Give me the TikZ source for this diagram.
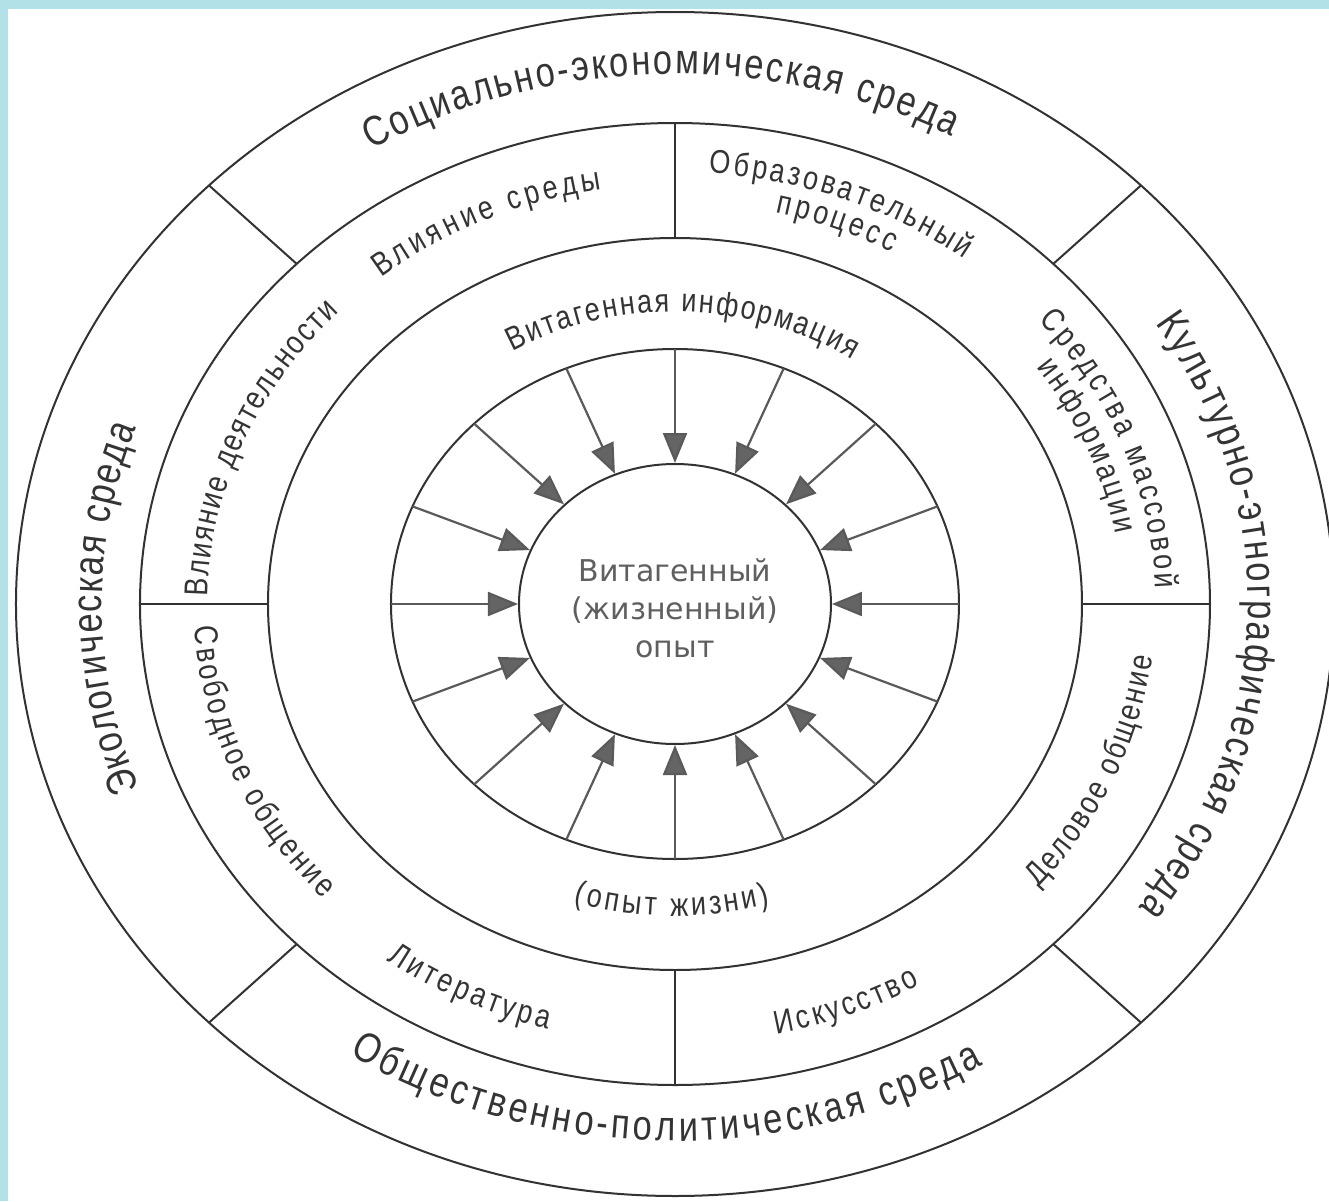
\documentclass[tikz,border=0pt]{standalone}
\usepackage{fontspec}
\setmainfont{Liberation Sans}
\newfontfamily\ringfont[FakeStretch=0.82]{Liberation Sans}
\newfontfamily\corefont{DejaVu Sans}
\usetikzlibrary{arrows.meta,decorations.text,shapes.geometric}

\definecolor{ink}{RGB}{50,50,50}
\definecolor{txt}{RGB}{52,52,52}
\definecolor{arrowgray}{RGB}{90,90,90}
\definecolor{headgray}{RGB}{100,100,100}
\definecolor{coretxt}{RGB}{95,95,95}
\definecolor{bgblue}{RGB}{178,226,232}

\tikzset{
  ring/.style={draw=ink, line width=1pt},
  spoke/.style={draw=arrowgray, line width=1.1pt, -{Triangle[length=15pt,width=12pt,fill=headgray]}},
  bigtext/.style={decorate, decoration={text along path, text align=fit to path, text color=txt,
      text={|\ringfont\fontsize{21pt}{24pt}\selectfont|#1}}},
  smalltext/.style={decorate, decoration={text along path, text align=fit to path, text color=txt,
      text={|\ringfont\fontsize{16.5pt}{19pt}\selectfont|#1}}},
}

\begin{document}
\begin{tikzpicture}[x=0.5pt, y=0.5pt]
\useasboundingbox (-675,-597) rectangle (654,604);
\fill[bgblue] (-675,-597) rectangle (654,604);
\fill[white] (-667,-597) rectangle (654,595);

% rings
\draw[ring] (0,0) ellipse [x radius=659, y radius=592];
\draw[ring] (0,0) ellipse [x radius=535, y radius=481];
\draw[ring] (0,0) ellipse [x radius=407, y radius=366];
\draw[ring] (0,0) ellipse [x radius=284, y radius=255];
\node[ellipse, ring, minimum width=156pt, minimum height=140pt, inner sep=0pt] (core) at (0,0) {};

% dividers
\foreach \a in {45,135,225,315}
  \draw[ring] (\a:535 and 481) -- (\a:659 and 592);
\foreach \a in {0,90,180,270}
  \draw[ring] (\a:407 and 366) -- (\a:535 and 481);

% arrows to the core
\foreach \a [count=\i] in {0,22.5,...,337.5} {
  \coordinate (s\i) at (\a:284 and 255);
  \draw[spoke] (s\i) -- (core);
}

\node[font=\corefont\fontsize{15pt}{19pt}\selectfont, text=coretxt, align=center] (coretext) at (0,-4)
  {Витагенный\\(жизненный)\\опыт};

% outer ring
\path[bigtext={Социально-экономическая среда}] (121:590 and 530) arc[start angle=121, end angle=62, x radius=590, y radius=530];
\path[bigtext={Культурно-этнографическая среда}] (33:573 and 515) arc[start angle=33, end angle=-36, x radius=573, y radius=515];
\path[bigtext={Экологическая среда}] (201:573 and 515) arc[start angle=201, end angle=160, x radius=573, y radius=515];
\path[bigtext={Общественно-политическая среда}] (237:598 and 537) arc[start angle=237, end angle=301, x radius=598, y radius=537];

% middle ring
\path[smalltext={Влияние среды}] (129:467 and 420) arc[start angle=129, end angle=99, x radius=467, y radius=420];
\path[smalltext={Образовательный}] (86:481 and 432) arc[start angle=86, end angle=53, x radius=481, y radius=432];
\path[smalltext={процесс}] (77:447 and 402) arc[start angle=77, end angle=61, x radius=447, y radius=402];
\path[smalltext={Средства массовой}] (41:481 and 432) arc[start angle=41, end angle=2, x radius=481, y radius=432];
\path[smalltext={информации}] (36:447 and 402) arc[start angle=36, end angle=10, x radius=447, y radius=402];
\path[smalltext={Влияние деятельности}] (179:467 and 420) arc[start angle=179, end angle=136, x radius=467, y radius=420];
\path[smalltext={Деловое общение}] (-41:481 and 432) arc[start angle=-41, end angle=-7, x radius=481, y radius=432];
\path[smalltext={Искусство}] (-78:490 and 440) arc[start angle=-78, end angle=-60, x radius=490, y radius=440];
\path[smalltext={Литература}] (234:490 and 440) arc[start angle=234, end angle=255, x radius=490, y radius=440];
\path[smalltext={Свободное общение}] (183:481 and 432) arc[start angle=183, end angle=223, x radius=481, y radius=432];

% inner ring
\path[smalltext={Витагенная информация}] (120:325 and 292) arc[start angle=120, end angle=57, x radius=325, y radius=292];
\path[smalltext={(опыт жизни)}] (253:347 and 312) arc[start angle=253, end angle=286, x radius=347, y radius=312];
\end{tikzpicture}
\end{document}
